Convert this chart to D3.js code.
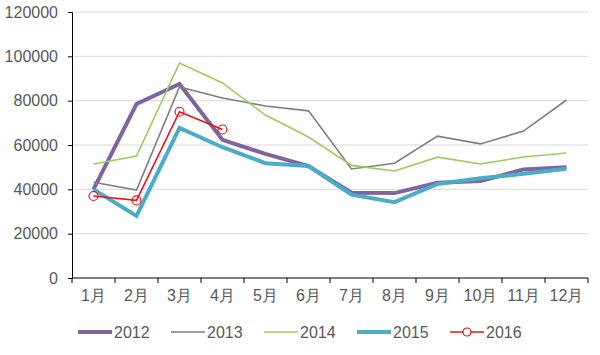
<!DOCTYPE html>
<html><head><meta charset="utf-8">
<script src="https://cdn.jsdelivr.net/npm/d3@7"></script>
<style>body{margin:0;background:#fff}svg{display:block;font-family:"Liberation Sans",Arial,sans-serif}</style>
</head><body><svg id="c" width="600" height="355"></svg>
<script>
const months = ["1月","2月","3月","4月","5月","6月","7月","8月","9月","10月","11月","12月"];
const yTicks = [0,20000,40000,60000,80000,100000,120000];
const s2012 = [40000,78500,87500,62300,56000,50500,38500,38300,43000,43700,49000,50000];
const s2013 = [43200,39700,86200,81200,77600,75400,49200,51800,64000,60500,66300,80300];
const s2014 = [51400,55000,97000,88000,73500,63600,50800,48300,54500,51400,54600,56400];
const s2015 = [40000,28000,67700,59000,51800,50500,37600,34200,42400,45000,47000,49300];
const s2016 = [37000,35000,75000,67000];
const seriesNames = ["2012","2013","2014","2015","2016"];
const seriesData = [s2012,s2013,s2014,s2015,s2016];
const colors = ["#8064a2","#7f7f7f","#9bcd5b","#4bacc6","#e8141a"];
const widths = [4,1.6,1.6,4,1.6];

const svg = d3.select("#c");
const L=72,R=588,T=12,B=278;
const x = d3.scaleBand().domain(months).range([L,R]);
const y = d3.scaleLinear().domain([0,120000]).range([B,T]);

// grid
svg.append("g").selectAll("line").data(yTicks.filter(d=>d>0)).join("line")
  .attr("x1",L).attr("x2",R).attr("y1",d=>y(d)).attr("y2",d=>y(d))
  .attr("stroke","#d9d9d9").attr("stroke-width",1);

// y axis
const ya = svg.append("g").attr("transform",`translate(${L},0)`)
  .call(d3.axisLeft(y).tickValues(yTicks).tickSize(4).tickPadding(10).tickFormat(d3.format("d")));
ya.select(".domain").attr("stroke","#000");
ya.selectAll(".tick line").attr("stroke","#000");
ya.selectAll("text").attr("font-size",16).attr("fill","#595959").attr("font-family","Liberation Sans, Arial, sans-serif");

// x axis
const xa = svg.append("g").attr("transform",`translate(0,${B})`)
  .call(d3.axisBottom(x).tickSize(0).tickPadding(12));
xa.select(".domain").attr("stroke","#000").attr("d",`M${L},0H${R}`);
xa.selectAll("text").attr("font-size",16).attr("fill","#595959").attr("font-family","Liberation Sans, Arial, sans-serif");
// boundary ticks
const bounds = months.map(m=>x(m)).concat([R]);
xa.append("g").selectAll("line").data(bounds).join("line")
  .attr("x1",d=>d).attr("x2",d=>d).attr("y1",0).attr("y2",5).attr("stroke","#000");

// lines
const line = d3.line().x((d,i)=>x(months[i])+x.bandwidth()/2).y(d=>y(d));
seriesData.forEach((s,k)=>{
  svg.append("path").datum(s).attr("d",line).attr("fill","none")
    .attr("stroke",colors[k]).attr("stroke-width",widths[k]).attr("stroke-linejoin","miter");
});
svg.append("g").selectAll("circle").data(s2016).join("circle")
  .attr("cx",(d,i)=>x(months[i])+x.bandwidth()/2).attr("cy",d=>y(d)).attr("r",4.5)
  .attr("fill","none").attr("stroke",colors[4]).attr("stroke-width",1.2);

// legend
const legX = [78,171,264,357,450];
const lg = svg.append("g");
seriesNames.forEach((n,k)=>{
  const g = lg.append("g").attr("transform",`translate(${legX[k]},332)`);
  g.append("line").attr("x1",0).attr("x2",34).attr("stroke",colors[k]).attr("stroke-width",widths[k]);
  if(k===4) g.append("circle").attr("cx",17).attr("r",4).attr("fill","#fff").attr("stroke",colors[k]).attr("stroke-width",1.2);
  g.append("text").attr("x",36).attr("y",6).text(n).attr("font-size",16).attr("fill","#595959");
});
</script></body></html>
